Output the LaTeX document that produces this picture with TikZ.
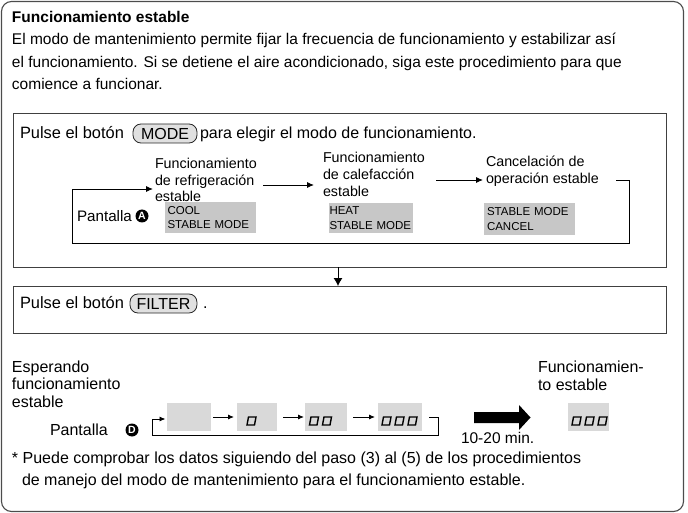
\documentclass[tikz,border=0pt]{standalone}
\usepackage{fontspec}
\setmainfont{Liberation Sans}
\usetikzlibrary{arrows.meta}
\begin{document}
\begin{tikzpicture}[x=1pt,y=-1pt,
  every node/.style={inner sep=0pt, outer sep=0pt},
  body/.style={anchor=base west, font=\fontsize{15.5}{18}\selectfont},
  bodyl/.style={anchor=base west, font=\fontsize{16}{18}\selectfont},
  lbl/.style={anchor=base west, font=\fontsize{14.3}{17}\selectfont},
  panel/.style={draw=black!75, line width=0.9pt, anchor=north west},
  lcd/.style={fill=black!22, anchor=north west, align=left, font=\fontsize{11.5}{14.5}\selectfont},
  lcdb/.style={fill=black!15, anchor=north west, minimum height=28pt},
  btn/.style={draw=black!85, line width=0.8pt, fill=black!12, rounded corners=8pt, minimum height=19pt, font=\fontsize{16}{18}\selectfont, anchor=west},
  circ/.style={circle, fill=black, text=white, font=\bfseries\fontsize{10.5}{10.5}\selectfont, minimum size=13pt},
  arr/.style={line width=0.9pt, -{Latex[length=7pt,width=6pt]}},
  sarr/.style={line width=0.9pt, -{Latex[length=6pt,width=5pt]}},
  seg/.pic={\draw[line width=1.4pt, line join=miter] (0,0) -- (7.5,0) -- (9,-8) -- (1.5,-8) -- cycle;}
]
\useasboundingbox (0,0) rectangle (688,513);
% outer frame
\draw[draw=black!70, line width=1.1pt, rounded corners=10pt] (1.5,1.5) rectangle (683.5,511.5);

% heading and paragraph
\node[body, font=\bfseries\fontsize{15.5}{18}\selectfont] (title) at (12,23) {Funcionamiento estable};
\node[body] (p1) at (12,45) {El modo de mantenimiento permite fijar la frecuencia de funcionamiento y estabilizar así};
\node[body] (p2) at (12,67.5) {el funcionamiento. Si se detiene el aire acondicionado, siga este procedimiento para que};
\node[body] (p3) at (12,89.5) {comience a funcionar.};

% box 1
\node[panel, minimum width=653pt, minimum height=154pt] (box1) at (13,113) {};
\node[bodyl, font=\fontsize{16.4}{18}\selectfont] (pulse1) at (20,138.5) {Pulse el botón};
\node[btn, inner xsep=8pt] (mode) at (133,133.5) {MODE};
\node[bodyl] (pulse1b) at (200,138.5) {para elegir el modo de funcionamiento.};

\node[lbl] (c1a) at (155,168.5) {Funcionamiento};
\node[lbl] (c1b) at (155,185.5) {de refrigeración};
\node[lbl] (c1c) at (155,202) {estable};
\node[lbl] (c2a) at (323,163) {Funcionamiento};
\node[lbl] (c2b) at (323,180) {de calefacción};
\node[lbl] (c2c) at (323,196.5) {estable};
\node[lbl] (c3a) at (486,167) {Cancelación de};
\node[lbl] (c3b) at (486,184) {operación estable};

\node[bodyl, font=\fontsize{15.2}{18}\selectfont] (pantA) at (77,222) {Pantalla};
\node[circ] (cA) at (142,216) {A};

\node[lcd, minimum width=91pt, minimum height=31pt, inner xsep=2.5pt, text width=86pt] (cool) at (165,202) {COOL\\STABLE MODE};
\node[lcd, minimum width=82pt, minimum height=30pt, inner xsep=0.5pt, text width=83pt] (heat) at (329,203) {HEAT\\STABLE MODE};
\node[lcd, minimum width=91pt, minimum height=32pt, inner xsep=3pt, text width=85pt] (cancel) at (484,203) {STABLE MODE\\CANCEL};

% loop in box 1
\coordinate (l1s) at (616,180);
\coordinate (l1tr) at (629,180);
\coordinate (l1br) at (629,243);
\coordinate (l1bl) at (72,243);
\coordinate (l1tl) at (72,189);
\coordinate (l1e) at (153,189);
\draw[arr, line join=miter] (l1s) -- (l1tr) -- (l1br) -- (l1bl) -- (l1tl) -- (l1e);
\coordinate (a2s) at (263,185);
\coordinate (a2e) at (314,185);
\draw[arr] (a2s) -- (a2e);
\coordinate (a3s) at (436,180);
\coordinate (a3e) at (483,180);
\draw[arr] (a3s) -- (a3e);

% box 2
\node[panel, minimum width=653pt, minimum height=47pt] (box2) at (13,286) {};
\coordinate (ax) at (338,0);
\draw[line width=0.9pt, -{Latex[length=8pt,width=9pt]}] (ax |- box1.south) -- (ax |- box2.north);
\node[bodyl, font=\fontsize{16.4}{18}\selectfont] (pulse2) at (20,308.5) {Pulse el botón};
\node[btn, inner xsep=6.5pt] (filter) at (130,303.5) {FILTER};
\node[bodyl] (dot) at (203,308.5) {.};

% bottom sequence
\node[bodyl] (e1) at (12,372) {Esperando};
\node[bodyl] (e2) at (12,389.5) {funcionamiento};
\node[bodyl] (e3) at (12,407) {estable};
\node[bodyl] (pantD) at (50,435.5) {Pantalla};
\node[circ] (cD) at (132,430) {D};

\node[lcdb, minimum width=44pt] (d0) at (167,403) {};
\node[lcdb, minimum width=40pt] (d1) at (237,403) {};
\node[lcdb, minimum width=42pt] (d2) at (305,403) {};
\node[lcdb, minimum width=44pt] (d3) at (378,403) {};
\node[lcdb, minimum width=41pt] (d4) at (568,403) {};

\pic at (247,425) {seg};
\pic at (309.5,425) {seg};
\pic at (322.5,425) {seg};
\pic at (382,425) {seg};
\pic at (395,425) {seg};
\pic at (408,425) {seg};
\pic at (572,425) {seg};
\pic at (585,425) {seg};
\pic at (598,425) {seg};

\coordinate (l2s) at (429,417);
\coordinate (l2tr) at (438,417);
\coordinate (l2br) at (438,435);
\coordinate (l2bl) at (152,435);
\coordinate (l2tl) at (152,419);
\draw[sarr, line join=miter, shorten >=1.5pt] (l2s) -- (l2tr) -- (l2br) -- (l2bl) -- (l2tl) -- (d0.west |- l2tl);
\draw[sarr, shorten <=2pt, shorten >=3pt] (d0.east |- 0,417) -- (d1.west |- 0,417);
\draw[sarr, shorten <=6pt, shorten >=1pt] (d1.east |- 0,417) -- (d2.west |- 0,417);
\draw[sarr, shorten <=6pt, shorten >=3pt] (d2.east |- 0,417) -- (d3.west |- 0,417);

% big arrow
\fill (474,412) -- (519,412) -- (519,405) -- (530.5,417.5) -- (519,430) -- (519,423) -- (474,423) -- cycle;
\node[body] (mins) at (461,443) {10-20 min.};
\node[bodyl] (f1) at (538,372) {Funcionamien-};
\node[bodyl] (f2) at (538,390) {to estable};

% footnote
\node[bodyl] (fn1) at (12,463) {* Puede comprobar los datos siguiendo del paso (3) al (5) de los procedimientos};
\node[bodyl] (fn2) at (22,485) {de manejo del modo de mantenimiento para el funcionamiento estable.};
\end{tikzpicture}
\end{document}
